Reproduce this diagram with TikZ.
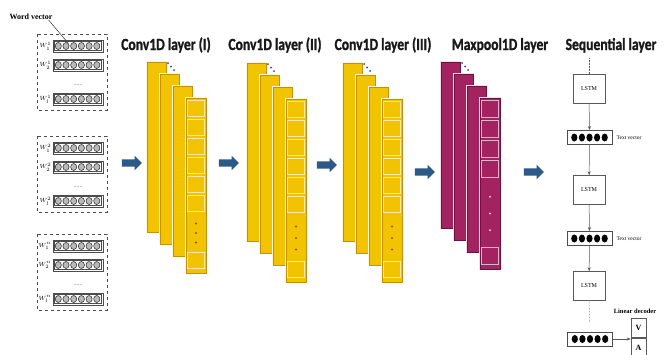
\documentclass[tikz,border=0pt]{standalone}
\usepackage{fontspec}
\setmainfont{Liberation Serif}
\newfontfamily\titlefont[FakeStretch=0.8,FakeBold=1.2]{Carlito}
\usetikzlibrary{shapes.arrows,arrows.meta}

\definecolor{convgold}{HTML}{F2C300}
\definecolor{convedge}{HTML}{C29206}
\definecolor{convdot}{HTML}{8A4E3A}
\definecolor{poolred}{HTML}{A2235F}
\definecolor{pooledge}{HTML}{6E1241}
\definecolor{pooldot}{HTML}{F3C6DA}
\definecolor{arrowblue}{HTML}{2C5A88}
\definecolor{topdot}{HTML}{2B3F8C}

\tikzset{
  layertitle/.style={font=\titlefont\bfseries\fontsize{17}{17}\selectfont, text=black!90, anchor=base, inner sep=0pt},
  bigarrow/.style={single arrow, fill=arrowblue, draw=none, minimum height=20pt, inner sep=3.5pt, single arrow head extend=3.5pt},
  lstmbox/.style={draw=gray!70!black, line width=0.5pt, fill=white, minimum width=32pt, minimum height=29pt, inner sep=0pt, font=\fontsize{6}{6}\selectfont},
  textvec/.style={draw=gray!60!black, line width=0.8pt, fill=white, minimum width=45pt, minimum height=14pt, inner sep=0pt},
  decbox/.style={draw=gray!70!black, line width=0.5pt, fill=white, minimum width=15pt, minimum height=19.5pt, inner sep=0pt, font=\bfseries\fontsize{8}{8}\selectfont},
  smalltext/.style={font=\fontsize{5.5}{5.5}\selectfont, inner sep=0pt},
  seqarrow/.style={gray!70!black, line width=0.5pt, -{Stealth[length=4pt,width=3pt]}}
}

% #1,#2 top left of back bar, #3 bar height, #4 squares, #5 pitch, #6 fill, #7 edge, #8 dot colour
\newcommand{\layerstack}[8]{%
  \foreach \i in {0,1,2} {
    \draw[white!85!#6, line width=2pt] ({#1+13*\i},{#2+12*\i}) rectangle ++(19,#3);
    \filldraw[fill=#6, draw=#7, line width=0.4pt] ({#1+13*\i},{#2+12*\i}) rectangle ++(19,#3);
  }
  \draw[white!85!#6, line width=2pt] ({#1+39},{#2+36}) rectangle ++(20,{#3+5});
  \filldraw[fill=#6, draw=#7, line width=0.4pt] ({#1+39},{#2+36}) rectangle ++(20,{#3+5});
  \foreach \k in {1,...,#4}
    \filldraw[fill=#6, draw=white!65!#6, line width=0.9pt] ({#1+40.5},{#2+38+(\k-1)*#5}) rectangle ++(17,{#5-2.5});
  \filldraw[fill=#6, draw=white!65!#6, line width=0.9pt] ({#1+40.5},{#2+#3+39-#5}) rectangle ++(17,{#5-2.5});
  \pgfmathsetmacro\gapa{#2+38+#4*#5}
  \pgfmathsetmacro\gapb{#2+#3+39-#5}
  \foreach \d in {-1,0,1}
    \fill[#8] ({#1+49},{(\gapa+\gapb)/2+\d*(\gapb-\gapa)/4}) circle (1.1);
  \foreach \d in {0,1,2}
    \fill[topdot] ({#1+21+3*\d},{#2+1+3.5*\d}) circle (1);
}

% #1 top of dashed box, #2 superscript
\newcommand{\wordgroup}[2]{%
  \draw[gray!60!black, dashed, line width=0.6pt] (37,#1) rectangle (107,{#1+76});
  \foreach \dy/\s in {12/1, 31/2, 65/l} {
    \pgfmathsetmacro\yc{#1+\dy}
    \draw[gray!60!black, line width=0.5pt] (53,{\yc-6}) rectangle (103,{\yc+6});
    \draw[gray!60!black, line width=0.3pt] (54.5,{\yc-4.5}) rectangle (101.5,{\yc+4.5});
    \foreach \c in {0,...,5}
      \filldraw[fill=gray!55, draw=gray!30!black, line width=0.5pt] ({58.3+7.7*\c},\yc) ellipse (3.1 and 3.5);
    \node[font=\fontsize{6}{6}\selectfont, inner sep=0pt, anchor=east] at (51.5,\yc) {$W^{#2}_{\s}$};
  }
  \node[font=\fontsize{6}{6}\selectfont, text=gray!70!black, inner sep=0pt] at (78,{#1+51}) {......};
}

\begin{document}
\begin{tikzpicture}[x=1pt,y=-1pt]
\useasboundingbox[fill=white] (0,0) rectangle (669,354);
\clip (0,0) rectangle (669,354);

% word vectors
\node[font=\bfseries\fontsize{8}{8}\selectfont, inner sep=0pt] (wvlabel) at (31,17) {Word vector};
\coordinate (wvtip) at (68,43);
\draw[gray!40!black, line width=0.5pt] ([xshift=-4pt]wvlabel.south east) -- (wvtip);
\wordgroup{34}{1}
\wordgroup{136}{2}
\wordgroup{234}{n}

% layer titles
\node[layertitle] (t1) at (166,50) {Conv1D layer (I)};
\node[layertitle] (t2) at (275,50) {Conv1D layer (II)};
\node[layertitle] (t3) at (383,50) {Conv1D layer (III)};
\node[layertitle] (t4) at (500,50) {Maxpool1D layer};
\node[layertitle] (t5) at (611,50) {Sequential layer};

% layers
\layerstack{147}{62}{170}{6}{19}{convgold}{convedge}{convdot}
\layerstack{247}{63}{178}{6}{19}{convgold}{convedge}{convdot}
\layerstack{343}{63}{178}{6}{19}{convgold}{convedge}{convdot}
\layerstack{441}{62}{166}{4}{20}{poolred}{pooledge}{pooldot}

% arrows between layers
\node[bigarrow] (a1) at (130,163) {};
\node[bigarrow] (a2) at (227,163) {};
\node[bigarrow] (a3) at (325,165) {};
\node[bigarrow] (a4) at (423,172) {};
\node[bigarrow] (a5) at (532,172) {};

% sequential layer
\coordinate (seqtop) at (589,58);
\node[lstmbox] (lstm1) at (589,89) {LSTM};
\node[textvec] (tv1) at (589.5,137.5) {};
\node[lstmbox] (lstm2) at (589,190) {LSTM};
\node[textvec] (tv2) at (589.5,238.5) {};
\node[lstmbox] (lstm3) at (589,286) {LSTM};
\node[textvec] (tv3) at (590,339) {};
\foreach \v in {tv1,tv2,tv3}
  \foreach \c in {-2,...,2}
    \fill[black] (\v) ++({7.6*\c},0) ellipse (3.1 and 4);
\node[smalltext, anchor=west] (tvlab1) at ([xshift=4pt]tv1.east) {Text vector};
\node[smalltext, anchor=west] (tvlab2) at ([xshift=4pt]tv2.east) {Text vector};

\node[decbox] (decV) at (638.5,327.5) {V};
\node[decbox, anchor=north] (decA) at (decV.south) {A};
\node[font=\bfseries\fontsize{6.5}{6.5}\selectfont, inner sep=0pt] (declab) at (635,311) {Linear decoder};

\draw[gray!70!black, line width=0.5pt, densely dotted] (seqtop) -- (lstm1.north);
\draw[seqarrow] (lstm1) -- (tv1);
\draw[seqarrow] (tv1) -- (lstm2);
\draw[seqarrow] (lstm2) -- (tv2);
\draw[seqarrow] (tv2) -- (lstm3);
\draw[gray!70!black, line width=0.5pt, densely dotted, shorten >=9pt] (lstm3.south) -- (tv3.north);
\draw[seqarrow] (tv3.east) -- (tv3.east -| decA.west);
\end{tikzpicture}
\end{document}
